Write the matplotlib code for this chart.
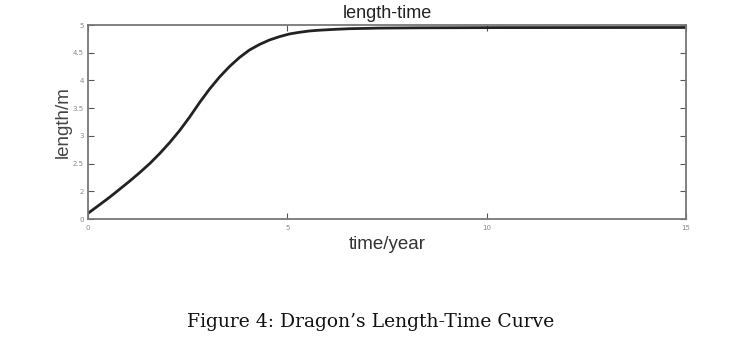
import matplotlib
matplotlib.use('Agg')
import matplotlib.pyplot as plt

# values
time_year = [0, 0.3, 0.55, 0.8, 1.05, 1.3, 1.55, 1.8, 2.05, 2.3, 2.55, 2.8, 3.05, 3.3,
             3.55, 3.8, 4.05, 4.3, 4.55, 4.8, 5.05, 5.3, 5.55, 5.8, 6.2, 6.55, 7.3, 8.3,
             10.3, 15.0]
length_m = [1.603, 1.762, 1.897, 2.041, 2.186, 2.339, 2.501, 2.682, 2.880, 3.097, 3.340,
            3.602, 3.845, 4.062, 4.251, 4.414, 4.549, 4.648, 4.729, 4.789, 4.838, 4.868,
            4.892, 4.906, 4.922, 4.933, 4.944, 4.949, 4.953, 4.955]

xticks = [0, 5, 10, 15]
yticks = [1.5, 2, 2.5, 3, 3.5, 4, 4.5, 5]
ytick_labels = ['0', '2', '2.5', '3', '3.5', '4', '4.5', '5']

fig = plt.figure(figsize=(7.36, 3.42), dpi=100)
ax = fig.add_axes([88/736, 1 - 219/342, (686-88)/736, (219-25)/342])

ax.plot(time_year, length_m, color='#222222', lw=2.0,
        solid_capstyle='round', solid_joinstyle='round')

ax.set_xlim(0, 15)
ax.set_ylim(1.5, 5)
ax.set_xticks(xticks)
ax.set_xticklabels([str(t) for t in xticks])
ax.set_yticks(yticks)
ax.set_yticklabels(ytick_labels)
ax.tick_params(direction='in', top=True, right=True, length=4, width=0.8,
               color='#555555', labelsize=5, labelcolor='#888888')
ax.tick_params(axis='x', pad=4)
ax.tick_params(axis='y', pad=3)
for s in ax.spines.values():
    s.set_color('#777777')
    s.set_linewidth(1.3)

ax.set_title('length-time', fontsize=13, family='Liberation Sans', color='#222222', pad=5)
ax.set_xlabel('time/year', fontsize=13.5, family='Liberation Sans', color='#333333', labelpad=4)
ax.set_ylabel('length/m', fontsize=13.5, family='Liberation Sans', color='#444444', labelpad=1)

fig.text(0.503, 1 - 322/342, 'Figure 4: Dragon\u2019s Length-Time Curve', ha='center', va='center',
         fontsize=13.5, family='DejaVu Serif', color='#111111')

fig.savefig('out.png', dpi=100)
